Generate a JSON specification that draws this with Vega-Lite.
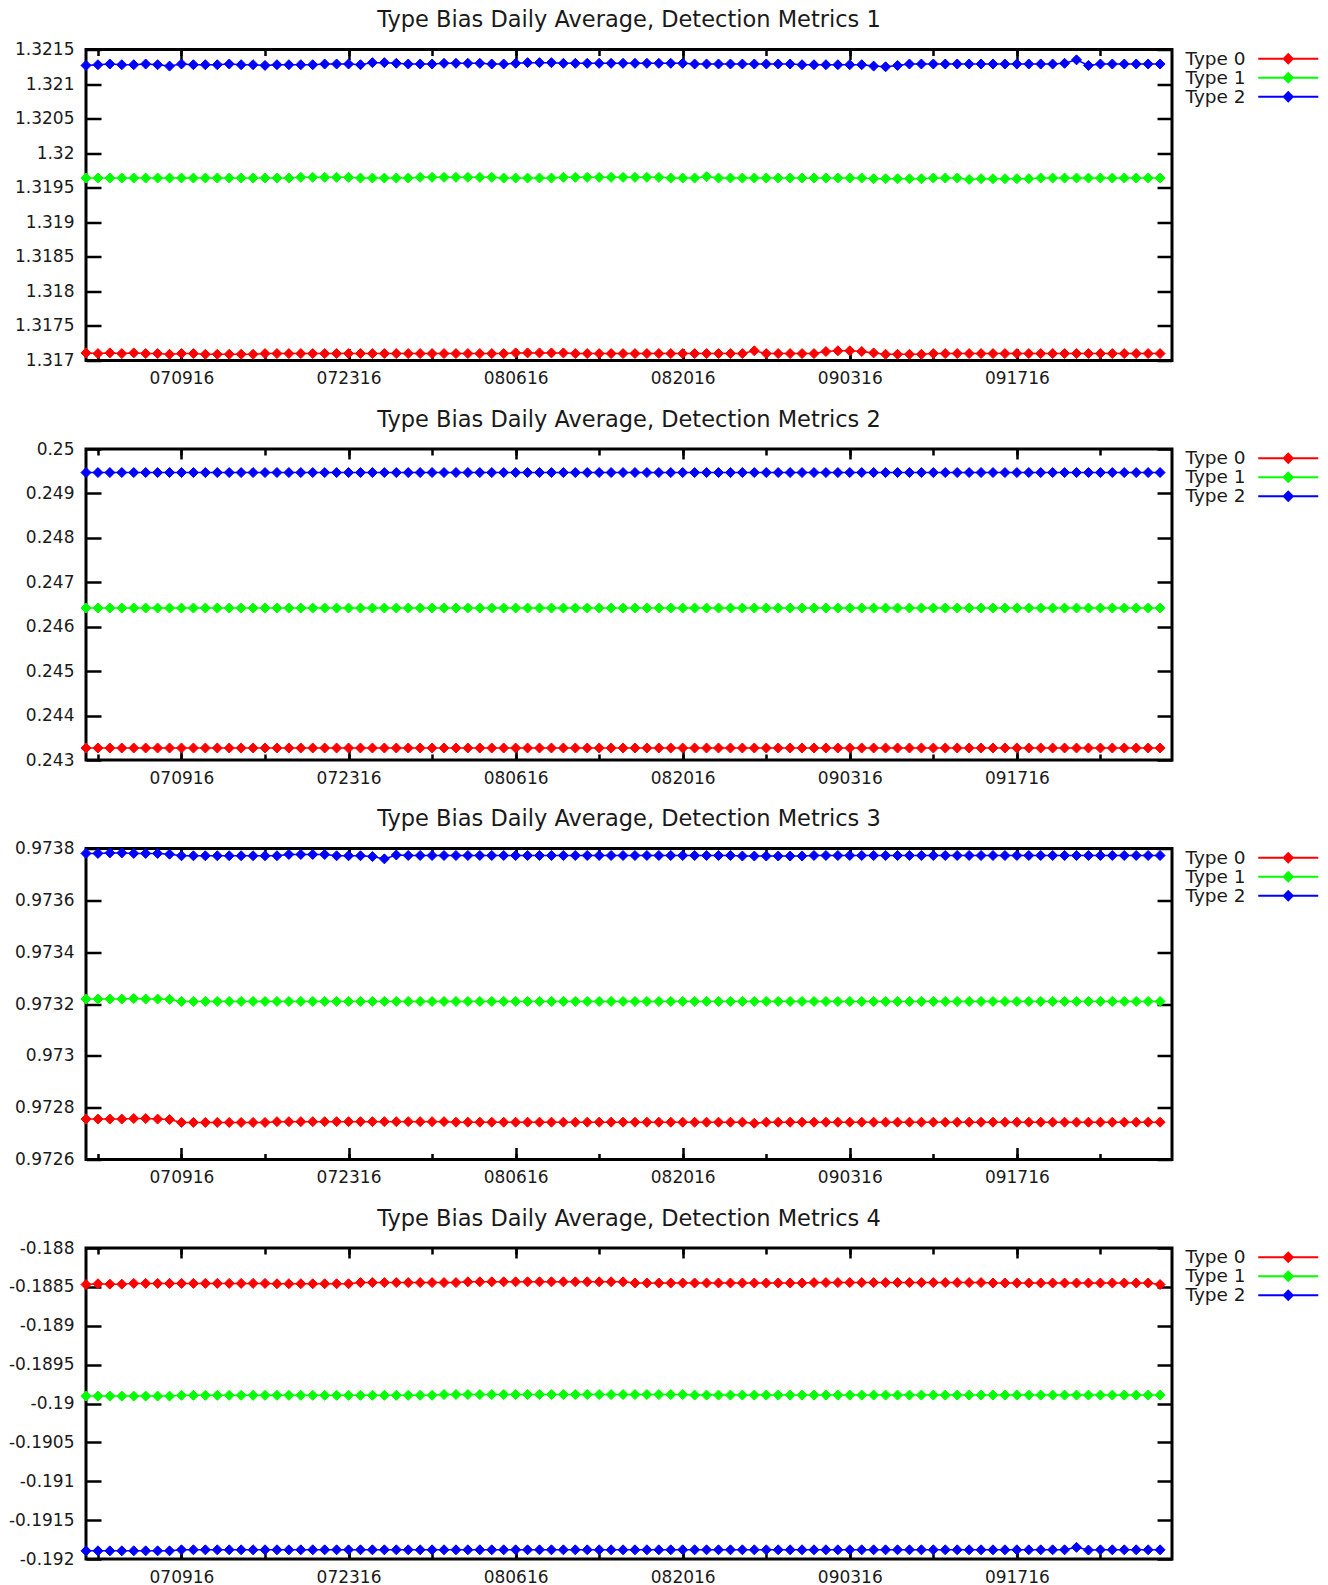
{
"$schema": "https://vega.github.io/schema/vega-lite/v6.json",
"background": "white",
"padding": {"left": 5, "top": 7.5, "right": 0, "bottom": 0},
"spacing": 18.5,
"config": {
  "font": "DejaVu Sans",
  "view": {"stroke": "#000", "strokeWidth": 3},
  "axis": {"grid": false, "domain": false, "tickColor": "#000", "tickWidth": 2.5, "labelFont": "DejaVu Sans", "labelFontSize": 17, "labelColor": "#1a1a1a"},
  "title": {"font": "DejaVu Sans", "fontSize": 22.5, "fontWeight": "normal", "color": "#1a1a1a", "anchor": "middle", "baseline": "alphabetic", "offset": 9},
  "legend": {"orient": "none", "legendX": 1100, "legendY": 0, "labelFont": "DejaVu Sans", "labelFontSize": 18.5, "labelColor": "#1a1a1a", "symbolSize": 256, "symbolStrokeWidth": 2, "symbolOffset": 93, "labelOffset": -112, "rowPadding": 0, "symbolOpacity": 1}
},
"datasets": {
"p1": [
{"d":"2016-07-01","t":"Type 0","v":1.31711},{"d":"2016-07-02","t":"Type 0","v":1.3171},{"d":"2016-07-03","t":"Type 0","v":1.31711},{"d":"2016-07-04","t":"Type 0","v":1.3171},{"d":"2016-07-05","t":"Type 0","v":1.31711},{"d":"2016-07-06","t":"Type 0","v":1.3171},{"d":"2016-07-07","t":"Type 0","v":1.3171},{"d":"2016-07-08","t":"Type 0","v":1.31709},{"d":"2016-07-09","t":"Type 0","v":1.3171},{"d":"2016-07-10","t":"Type 0","v":1.3171},
{"d":"2016-07-11","t":"Type 0","v":1.31709},{"d":"2016-07-12","t":"Type 0","v":1.31709},{"d":"2016-07-13","t":"Type 0","v":1.31709},{"d":"2016-07-14","t":"Type 0","v":1.31709},{"d":"2016-07-15","t":"Type 0","v":1.31709},{"d":"2016-07-16","t":"Type 0","v":1.3171},{"d":"2016-07-17","t":"Type 0","v":1.3171},{"d":"2016-07-18","t":"Type 0","v":1.3171},{"d":"2016-07-19","t":"Type 0","v":1.3171},{"d":"2016-07-20","t":"Type 0","v":1.3171},
{"d":"2016-07-21","t":"Type 0","v":1.3171},{"d":"2016-07-22","t":"Type 0","v":1.3171},{"d":"2016-07-23","t":"Type 0","v":1.3171},{"d":"2016-07-24","t":"Type 0","v":1.3171},{"d":"2016-07-25","t":"Type 0","v":1.3171},{"d":"2016-07-26","t":"Type 0","v":1.3171},{"d":"2016-07-27","t":"Type 0","v":1.3171},{"d":"2016-07-28","t":"Type 0","v":1.3171},{"d":"2016-07-29","t":"Type 0","v":1.3171},{"d":"2016-07-30","t":"Type 0","v":1.3171},
{"d":"2016-07-31","t":"Type 0","v":1.3171},{"d":"2016-08-01","t":"Type 0","v":1.3171},{"d":"2016-08-02","t":"Type 0","v":1.3171},{"d":"2016-08-03","t":"Type 0","v":1.3171},{"d":"2016-08-04","t":"Type 0","v":1.3171},{"d":"2016-08-05","t":"Type 0","v":1.3171},{"d":"2016-08-06","t":"Type 0","v":1.31711},{"d":"2016-08-07","t":"Type 0","v":1.31711},{"d":"2016-08-08","t":"Type 0","v":1.31711},{"d":"2016-08-09","t":"Type 0","v":1.31711},
{"d":"2016-08-10","t":"Type 0","v":1.31711},{"d":"2016-08-11","t":"Type 0","v":1.3171},{"d":"2016-08-12","t":"Type 0","v":1.3171},{"d":"2016-08-13","t":"Type 0","v":1.3171},{"d":"2016-08-14","t":"Type 0","v":1.3171},{"d":"2016-08-15","t":"Type 0","v":1.3171},{"d":"2016-08-16","t":"Type 0","v":1.3171},{"d":"2016-08-17","t":"Type 0","v":1.3171},{"d":"2016-08-18","t":"Type 0","v":1.3171},{"d":"2016-08-19","t":"Type 0","v":1.3171},
{"d":"2016-08-20","t":"Type 0","v":1.3171},{"d":"2016-08-21","t":"Type 0","v":1.3171},{"d":"2016-08-22","t":"Type 0","v":1.3171},{"d":"2016-08-23","t":"Type 0","v":1.3171},{"d":"2016-08-24","t":"Type 0","v":1.3171},{"d":"2016-08-25","t":"Type 0","v":1.3171},{"d":"2016-08-26","t":"Type 0","v":1.31714},{"d":"2016-08-27","t":"Type 0","v":1.3171},{"d":"2016-08-28","t":"Type 0","v":1.3171},{"d":"2016-08-29","t":"Type 0","v":1.3171},
{"d":"2016-08-30","t":"Type 0","v":1.3171},{"d":"2016-08-31","t":"Type 0","v":1.3171},{"d":"2016-09-01","t":"Type 0","v":1.31713},{"d":"2016-09-02","t":"Type 0","v":1.31714},{"d":"2016-09-03","t":"Type 0","v":1.31714},{"d":"2016-09-04","t":"Type 0","v":1.31713},{"d":"2016-09-05","t":"Type 0","v":1.31711},{"d":"2016-09-06","t":"Type 0","v":1.31709},{"d":"2016-09-07","t":"Type 0","v":1.31709},{"d":"2016-09-08","t":"Type 0","v":1.31709},
{"d":"2016-09-09","t":"Type 0","v":1.31709},{"d":"2016-09-10","t":"Type 0","v":1.3171},{"d":"2016-09-11","t":"Type 0","v":1.3171},{"d":"2016-09-12","t":"Type 0","v":1.3171},{"d":"2016-09-13","t":"Type 0","v":1.3171},{"d":"2016-09-14","t":"Type 0","v":1.3171},{"d":"2016-09-15","t":"Type 0","v":1.3171},{"d":"2016-09-16","t":"Type 0","v":1.3171},{"d":"2016-09-17","t":"Type 0","v":1.3171},{"d":"2016-09-18","t":"Type 0","v":1.3171},
{"d":"2016-09-19","t":"Type 0","v":1.3171},{"d":"2016-09-20","t":"Type 0","v":1.3171},{"d":"2016-09-21","t":"Type 0","v":1.3171},{"d":"2016-09-22","t":"Type 0","v":1.3171},{"d":"2016-09-23","t":"Type 0","v":1.3171},{"d":"2016-09-24","t":"Type 0","v":1.3171},{"d":"2016-09-25","t":"Type 0","v":1.3171},{"d":"2016-09-26","t":"Type 0","v":1.3171},{"d":"2016-09-27","t":"Type 0","v":1.3171},{"d":"2016-09-28","t":"Type 0","v":1.3171},
{"d":"2016-09-29","t":"Type 0","v":1.3171},
{"d":"2016-07-01","t":"Type 1","v":1.31964},{"d":"2016-07-02","t":"Type 1","v":1.31964},{"d":"2016-07-03","t":"Type 1","v":1.31964},{"d":"2016-07-04","t":"Type 1","v":1.31964},{"d":"2016-07-05","t":"Type 1","v":1.31964},{"d":"2016-07-06","t":"Type 1","v":1.31964},{"d":"2016-07-07","t":"Type 1","v":1.31964},{"d":"2016-07-08","t":"Type 1","v":1.31964},{"d":"2016-07-09","t":"Type 1","v":1.31964},{"d":"2016-07-10","t":"Type 1","v":1.31964},
{"d":"2016-07-11","t":"Type 1","v":1.31964},{"d":"2016-07-12","t":"Type 1","v":1.31964},{"d":"2016-07-13","t":"Type 1","v":1.31964},{"d":"2016-07-14","t":"Type 1","v":1.31964},{"d":"2016-07-15","t":"Type 1","v":1.31964},{"d":"2016-07-16","t":"Type 1","v":1.31964},{"d":"2016-07-17","t":"Type 1","v":1.31964},{"d":"2016-07-18","t":"Type 1","v":1.31964},{"d":"2016-07-19","t":"Type 1","v":1.31965},{"d":"2016-07-20","t":"Type 1","v":1.31965},
{"d":"2016-07-21","t":"Type 1","v":1.31965},{"d":"2016-07-22","t":"Type 1","v":1.31965},{"d":"2016-07-23","t":"Type 1","v":1.31965},{"d":"2016-07-24","t":"Type 1","v":1.31964},{"d":"2016-07-25","t":"Type 1","v":1.31964},{"d":"2016-07-26","t":"Type 1","v":1.31964},{"d":"2016-07-27","t":"Type 1","v":1.31964},{"d":"2016-07-28","t":"Type 1","v":1.31964},{"d":"2016-07-29","t":"Type 1","v":1.31965},{"d":"2016-07-30","t":"Type 1","v":1.31965},
{"d":"2016-07-31","t":"Type 1","v":1.31965},{"d":"2016-08-01","t":"Type 1","v":1.31965},{"d":"2016-08-02","t":"Type 1","v":1.31965},{"d":"2016-08-03","t":"Type 1","v":1.31965},{"d":"2016-08-04","t":"Type 1","v":1.31965},{"d":"2016-08-05","t":"Type 1","v":1.31964},{"d":"2016-08-06","t":"Type 1","v":1.31964},{"d":"2016-08-07","t":"Type 1","v":1.31964},{"d":"2016-08-08","t":"Type 1","v":1.31964},{"d":"2016-08-09","t":"Type 1","v":1.31964},
{"d":"2016-08-10","t":"Type 1","v":1.31965},{"d":"2016-08-11","t":"Type 1","v":1.31965},{"d":"2016-08-12","t":"Type 1","v":1.31965},{"d":"2016-08-13","t":"Type 1","v":1.31965},{"d":"2016-08-14","t":"Type 1","v":1.31965},{"d":"2016-08-15","t":"Type 1","v":1.31965},{"d":"2016-08-16","t":"Type 1","v":1.31965},{"d":"2016-08-17","t":"Type 1","v":1.31965},{"d":"2016-08-18","t":"Type 1","v":1.31965},{"d":"2016-08-19","t":"Type 1","v":1.31964},
{"d":"2016-08-20","t":"Type 1","v":1.31964},{"d":"2016-08-21","t":"Type 1","v":1.31964},{"d":"2016-08-22","t":"Type 1","v":1.31966},{"d":"2016-08-23","t":"Type 1","v":1.31964},{"d":"2016-08-24","t":"Type 1","v":1.31964},{"d":"2016-08-25","t":"Type 1","v":1.31964},{"d":"2016-08-26","t":"Type 1","v":1.31964},{"d":"2016-08-27","t":"Type 1","v":1.31964},{"d":"2016-08-28","t":"Type 1","v":1.31964},{"d":"2016-08-29","t":"Type 1","v":1.31964},
{"d":"2016-08-30","t":"Type 1","v":1.31964},{"d":"2016-08-31","t":"Type 1","v":1.31964},{"d":"2016-09-01","t":"Type 1","v":1.31964},{"d":"2016-09-02","t":"Type 1","v":1.31964},{"d":"2016-09-03","t":"Type 1","v":1.31964},{"d":"2016-09-04","t":"Type 1","v":1.31964},{"d":"2016-09-05","t":"Type 1","v":1.31963},{"d":"2016-09-06","t":"Type 1","v":1.31963},{"d":"2016-09-07","t":"Type 1","v":1.31963},{"d":"2016-09-08","t":"Type 1","v":1.31963},
{"d":"2016-09-09","t":"Type 1","v":1.31963},{"d":"2016-09-10","t":"Type 1","v":1.31964},{"d":"2016-09-11","t":"Type 1","v":1.31964},{"d":"2016-09-12","t":"Type 1","v":1.31964},{"d":"2016-09-13","t":"Type 1","v":1.31962},{"d":"2016-09-14","t":"Type 1","v":1.31963},{"d":"2016-09-15","t":"Type 1","v":1.31963},{"d":"2016-09-16","t":"Type 1","v":1.31963},{"d":"2016-09-17","t":"Type 1","v":1.31963},{"d":"2016-09-18","t":"Type 1","v":1.31963},
{"d":"2016-09-19","t":"Type 1","v":1.31964},{"d":"2016-09-20","t":"Type 1","v":1.31964},{"d":"2016-09-21","t":"Type 1","v":1.31964},{"d":"2016-09-22","t":"Type 1","v":1.31964},{"d":"2016-09-23","t":"Type 1","v":1.31964},{"d":"2016-09-24","t":"Type 1","v":1.31964},{"d":"2016-09-25","t":"Type 1","v":1.31964},{"d":"2016-09-26","t":"Type 1","v":1.31964},{"d":"2016-09-27","t":"Type 1","v":1.31964},{"d":"2016-09-28","t":"Type 1","v":1.31964},
{"d":"2016-09-29","t":"Type 1","v":1.31964},
{"d":"2016-07-01","t":"Type 2","v":1.32127},{"d":"2016-07-02","t":"Type 2","v":1.32128},{"d":"2016-07-03","t":"Type 2","v":1.32129},{"d":"2016-07-04","t":"Type 2","v":1.32128},{"d":"2016-07-05","t":"Type 2","v":1.32128},{"d":"2016-07-06","t":"Type 2","v":1.32129},{"d":"2016-07-07","t":"Type 2","v":1.32128},{"d":"2016-07-08","t":"Type 2","v":1.32126},{"d":"2016-07-09","t":"Type 2","v":1.32129},{"d":"2016-07-10","t":"Type 2","v":1.32128},
{"d":"2016-07-11","t":"Type 2","v":1.32128},{"d":"2016-07-12","t":"Type 2","v":1.32128},{"d":"2016-07-13","t":"Type 2","v":1.32129},{"d":"2016-07-14","t":"Type 2","v":1.32128},{"d":"2016-07-15","t":"Type 2","v":1.32128},{"d":"2016-07-16","t":"Type 2","v":1.32127},{"d":"2016-07-17","t":"Type 2","v":1.32128},{"d":"2016-07-18","t":"Type 2","v":1.32128},{"d":"2016-07-19","t":"Type 2","v":1.32128},{"d":"2016-07-20","t":"Type 2","v":1.32128},
{"d":"2016-07-21","t":"Type 2","v":1.32129},{"d":"2016-07-22","t":"Type 2","v":1.32129},{"d":"2016-07-23","t":"Type 2","v":1.32129},{"d":"2016-07-24","t":"Type 2","v":1.32128},{"d":"2016-07-25","t":"Type 2","v":1.32131},{"d":"2016-07-26","t":"Type 2","v":1.32131},{"d":"2016-07-27","t":"Type 2","v":1.3213},{"d":"2016-07-28","t":"Type 2","v":1.32129},{"d":"2016-07-29","t":"Type 2","v":1.32129},{"d":"2016-07-30","t":"Type 2","v":1.32129},
{"d":"2016-07-31","t":"Type 2","v":1.3213},{"d":"2016-08-01","t":"Type 2","v":1.3213},{"d":"2016-08-02","t":"Type 2","v":1.3213},{"d":"2016-08-03","t":"Type 2","v":1.3213},{"d":"2016-08-04","t":"Type 2","v":1.32129},{"d":"2016-08-05","t":"Type 2","v":1.32129},{"d":"2016-08-06","t":"Type 2","v":1.3213},{"d":"2016-08-07","t":"Type 2","v":1.32131},{"d":"2016-08-08","t":"Type 2","v":1.32131},{"d":"2016-08-09","t":"Type 2","v":1.32131},
{"d":"2016-08-10","t":"Type 2","v":1.3213},{"d":"2016-08-11","t":"Type 2","v":1.3213},{"d":"2016-08-12","t":"Type 2","v":1.3213},{"d":"2016-08-13","t":"Type 2","v":1.3213},{"d":"2016-08-14","t":"Type 2","v":1.3213},{"d":"2016-08-15","t":"Type 2","v":1.3213},{"d":"2016-08-16","t":"Type 2","v":1.3213},{"d":"2016-08-17","t":"Type 2","v":1.3213},{"d":"2016-08-18","t":"Type 2","v":1.3213},{"d":"2016-08-19","t":"Type 2","v":1.3213},
{"d":"2016-08-20","t":"Type 2","v":1.3213},{"d":"2016-08-21","t":"Type 2","v":1.32129},{"d":"2016-08-22","t":"Type 2","v":1.32129},{"d":"2016-08-23","t":"Type 2","v":1.32129},{"d":"2016-08-24","t":"Type 2","v":1.32129},{"d":"2016-08-25","t":"Type 2","v":1.32129},{"d":"2016-08-26","t":"Type 2","v":1.32129},{"d":"2016-08-27","t":"Type 2","v":1.32129},{"d":"2016-08-28","t":"Type 2","v":1.32129},{"d":"2016-08-29","t":"Type 2","v":1.32129},
{"d":"2016-08-30","t":"Type 2","v":1.32128},{"d":"2016-08-31","t":"Type 2","v":1.32128},{"d":"2016-09-01","t":"Type 2","v":1.32128},{"d":"2016-09-02","t":"Type 2","v":1.32128},{"d":"2016-09-03","t":"Type 2","v":1.32128},{"d":"2016-09-04","t":"Type 2","v":1.32128},{"d":"2016-09-05","t":"Type 2","v":1.32126},{"d":"2016-09-06","t":"Type 2","v":1.32125},{"d":"2016-09-07","t":"Type 2","v":1.32127},{"d":"2016-09-08","t":"Type 2","v":1.32129},
{"d":"2016-09-09","t":"Type 2","v":1.32129},{"d":"2016-09-10","t":"Type 2","v":1.32129},{"d":"2016-09-11","t":"Type 2","v":1.32129},{"d":"2016-09-12","t":"Type 2","v":1.32129},{"d":"2016-09-13","t":"Type 2","v":1.32129},{"d":"2016-09-14","t":"Type 2","v":1.32129},{"d":"2016-09-15","t":"Type 2","v":1.32129},{"d":"2016-09-16","t":"Type 2","v":1.32129},{"d":"2016-09-17","t":"Type 2","v":1.32129},{"d":"2016-09-18","t":"Type 2","v":1.32129},
{"d":"2016-09-19","t":"Type 2","v":1.32129},{"d":"2016-09-20","t":"Type 2","v":1.32129},{"d":"2016-09-21","t":"Type 2","v":1.3213},{"d":"2016-09-22","t":"Type 2","v":1.32135},{"d":"2016-09-23","t":"Type 2","v":1.32127},{"d":"2016-09-24","t":"Type 2","v":1.32129},{"d":"2016-09-25","t":"Type 2","v":1.32129},{"d":"2016-09-26","t":"Type 2","v":1.32129},{"d":"2016-09-27","t":"Type 2","v":1.32129},{"d":"2016-09-28","t":"Type 2","v":1.32129},
{"d":"2016-09-29","t":"Type 2","v":1.32129}
],
"p2": [
{"d":"2016-07-01","t":"Type 0","v":0.24327},{"d":"2016-07-02","t":"Type 0","v":0.24327},{"d":"2016-07-03","t":"Type 0","v":0.24327},{"d":"2016-07-04","t":"Type 0","v":0.24327},{"d":"2016-07-05","t":"Type 0","v":0.24327},{"d":"2016-07-06","t":"Type 0","v":0.24327},{"d":"2016-07-07","t":"Type 0","v":0.24327},{"d":"2016-07-08","t":"Type 0","v":0.24327},{"d":"2016-07-09","t":"Type 0","v":0.24327},{"d":"2016-07-10","t":"Type 0","v":0.24327},
{"d":"2016-07-11","t":"Type 0","v":0.24327},{"d":"2016-07-12","t":"Type 0","v":0.24327},{"d":"2016-07-13","t":"Type 0","v":0.24327},{"d":"2016-07-14","t":"Type 0","v":0.24327},{"d":"2016-07-15","t":"Type 0","v":0.24327},{"d":"2016-07-16","t":"Type 0","v":0.24327},{"d":"2016-07-17","t":"Type 0","v":0.24327},{"d":"2016-07-18","t":"Type 0","v":0.24327},{"d":"2016-07-19","t":"Type 0","v":0.24327},{"d":"2016-07-20","t":"Type 0","v":0.24327},
{"d":"2016-07-21","t":"Type 0","v":0.24327},{"d":"2016-07-22","t":"Type 0","v":0.24327},{"d":"2016-07-23","t":"Type 0","v":0.24327},{"d":"2016-07-24","t":"Type 0","v":0.24327},{"d":"2016-07-25","t":"Type 0","v":0.24327},{"d":"2016-07-26","t":"Type 0","v":0.24327},{"d":"2016-07-27","t":"Type 0","v":0.24327},{"d":"2016-07-28","t":"Type 0","v":0.24327},{"d":"2016-07-29","t":"Type 0","v":0.24327},{"d":"2016-07-30","t":"Type 0","v":0.24327},
{"d":"2016-07-31","t":"Type 0","v":0.24327},{"d":"2016-08-01","t":"Type 0","v":0.24327},{"d":"2016-08-02","t":"Type 0","v":0.24327},{"d":"2016-08-03","t":"Type 0","v":0.24327},{"d":"2016-08-04","t":"Type 0","v":0.24327},{"d":"2016-08-05","t":"Type 0","v":0.24327},{"d":"2016-08-06","t":"Type 0","v":0.24327},{"d":"2016-08-07","t":"Type 0","v":0.24327},{"d":"2016-08-08","t":"Type 0","v":0.24327},{"d":"2016-08-09","t":"Type 0","v":0.24327},
{"d":"2016-08-10","t":"Type 0","v":0.24327},{"d":"2016-08-11","t":"Type 0","v":0.24327},{"d":"2016-08-12","t":"Type 0","v":0.24327},{"d":"2016-08-13","t":"Type 0","v":0.24327},{"d":"2016-08-14","t":"Type 0","v":0.24327},{"d":"2016-08-15","t":"Type 0","v":0.24327},{"d":"2016-08-16","t":"Type 0","v":0.24327},{"d":"2016-08-17","t":"Type 0","v":0.24327},{"d":"2016-08-18","t":"Type 0","v":0.24327},{"d":"2016-08-19","t":"Type 0","v":0.24327},
{"d":"2016-08-20","t":"Type 0","v":0.24327},{"d":"2016-08-21","t":"Type 0","v":0.24327},{"d":"2016-08-22","t":"Type 0","v":0.24327},{"d":"2016-08-23","t":"Type 0","v":0.24327},{"d":"2016-08-24","t":"Type 0","v":0.24327},{"d":"2016-08-25","t":"Type 0","v":0.24327},{"d":"2016-08-26","t":"Type 0","v":0.24327},{"d":"2016-08-27","t":"Type 0","v":0.24327},{"d":"2016-08-28","t":"Type 0","v":0.24327},{"d":"2016-08-29","t":"Type 0","v":0.24327},
{"d":"2016-08-30","t":"Type 0","v":0.24327},{"d":"2016-08-31","t":"Type 0","v":0.24327},{"d":"2016-09-01","t":"Type 0","v":0.24327},{"d":"2016-09-02","t":"Type 0","v":0.24327},{"d":"2016-09-03","t":"Type 0","v":0.24327},{"d":"2016-09-04","t":"Type 0","v":0.24327},{"d":"2016-09-05","t":"Type 0","v":0.24327},{"d":"2016-09-06","t":"Type 0","v":0.24327},{"d":"2016-09-07","t":"Type 0","v":0.24327},{"d":"2016-09-08","t":"Type 0","v":0.24327},
{"d":"2016-09-09","t":"Type 0","v":0.24327},{"d":"2016-09-10","t":"Type 0","v":0.24327},{"d":"2016-09-11","t":"Type 0","v":0.24327},{"d":"2016-09-12","t":"Type 0","v":0.24327},{"d":"2016-09-13","t":"Type 0","v":0.24327},{"d":"2016-09-14","t":"Type 0","v":0.24327},{"d":"2016-09-15","t":"Type 0","v":0.24327},{"d":"2016-09-16","t":"Type 0","v":0.24327},{"d":"2016-09-17","t":"Type 0","v":0.24327},{"d":"2016-09-18","t":"Type 0","v":0.24327},
{"d":"2016-09-19","t":"Type 0","v":0.24327},{"d":"2016-09-20","t":"Type 0","v":0.24327},{"d":"2016-09-21","t":"Type 0","v":0.24327},{"d":"2016-09-22","t":"Type 0","v":0.24327},{"d":"2016-09-23","t":"Type 0","v":0.24327},{"d":"2016-09-24","t":"Type 0","v":0.24327},{"d":"2016-09-25","t":"Type 0","v":0.24327},{"d":"2016-09-26","t":"Type 0","v":0.24327},{"d":"2016-09-27","t":"Type 0","v":0.24327},{"d":"2016-09-28","t":"Type 0","v":0.24327},
{"d":"2016-09-29","t":"Type 0","v":0.24327},
{"d":"2016-07-01","t":"Type 1","v":0.24642},{"d":"2016-07-02","t":"Type 1","v":0.24642},{"d":"2016-07-03","t":"Type 1","v":0.24642},{"d":"2016-07-04","t":"Type 1","v":0.24642},{"d":"2016-07-05","t":"Type 1","v":0.24642},{"d":"2016-07-06","t":"Type 1","v":0.24642},{"d":"2016-07-07","t":"Type 1","v":0.24642},{"d":"2016-07-08","t":"Type 1","v":0.24642},{"d":"2016-07-09","t":"Type 1","v":0.24642},{"d":"2016-07-10","t":"Type 1","v":0.24642},
{"d":"2016-07-11","t":"Type 1","v":0.24642},{"d":"2016-07-12","t":"Type 1","v":0.24642},{"d":"2016-07-13","t":"Type 1","v":0.24642},{"d":"2016-07-14","t":"Type 1","v":0.24642},{"d":"2016-07-15","t":"Type 1","v":0.24642},{"d":"2016-07-16","t":"Type 1","v":0.24642},{"d":"2016-07-17","t":"Type 1","v":0.24642},{"d":"2016-07-18","t":"Type 1","v":0.24642},{"d":"2016-07-19","t":"Type 1","v":0.24642},{"d":"2016-07-20","t":"Type 1","v":0.24642},
{"d":"2016-07-21","t":"Type 1","v":0.24642},{"d":"2016-07-22","t":"Type 1","v":0.24642},{"d":"2016-07-23","t":"Type 1","v":0.24642},{"d":"2016-07-24","t":"Type 1","v":0.24642},{"d":"2016-07-25","t":"Type 1","v":0.24642},{"d":"2016-07-26","t":"Type 1","v":0.24642},{"d":"2016-07-27","t":"Type 1","v":0.24642},{"d":"2016-07-28","t":"Type 1","v":0.24642},{"d":"2016-07-29","t":"Type 1","v":0.24642},{"d":"2016-07-30","t":"Type 1","v":0.24642},
{"d":"2016-07-31","t":"Type 1","v":0.24642},{"d":"2016-08-01","t":"Type 1","v":0.24642},{"d":"2016-08-02","t":"Type 1","v":0.24642},{"d":"2016-08-03","t":"Type 1","v":0.24642},{"d":"2016-08-04","t":"Type 1","v":0.24642},{"d":"2016-08-05","t":"Type 1","v":0.24642},{"d":"2016-08-06","t":"Type 1","v":0.24642},{"d":"2016-08-07","t":"Type 1","v":0.24642},{"d":"2016-08-08","t":"Type 1","v":0.24642},{"d":"2016-08-09","t":"Type 1","v":0.24642},
{"d":"2016-08-10","t":"Type 1","v":0.24642},{"d":"2016-08-11","t":"Type 1","v":0.24642},{"d":"2016-08-12","t":"Type 1","v":0.24642},{"d":"2016-08-13","t":"Type 1","v":0.24642},{"d":"2016-08-14","t":"Type 1","v":0.24642},{"d":"2016-08-15","t":"Type 1","v":0.24642},{"d":"2016-08-16","t":"Type 1","v":0.24642},{"d":"2016-08-17","t":"Type 1","v":0.24642},{"d":"2016-08-18","t":"Type 1","v":0.24642},{"d":"2016-08-19","t":"Type 1","v":0.24642},
{"d":"2016-08-20","t":"Type 1","v":0.24642},{"d":"2016-08-21","t":"Type 1","v":0.24642},{"d":"2016-08-22","t":"Type 1","v":0.24642},{"d":"2016-08-23","t":"Type 1","v":0.24642},{"d":"2016-08-24","t":"Type 1","v":0.24642},{"d":"2016-08-25","t":"Type 1","v":0.24642},{"d":"2016-08-26","t":"Type 1","v":0.24642},{"d":"2016-08-27","t":"Type 1","v":0.24642},{"d":"2016-08-28","t":"Type 1","v":0.24642},{"d":"2016-08-29","t":"Type 1","v":0.24642},
{"d":"2016-08-30","t":"Type 1","v":0.24642},{"d":"2016-08-31","t":"Type 1","v":0.24642},{"d":"2016-09-01","t":"Type 1","v":0.24642},{"d":"2016-09-02","t":"Type 1","v":0.24642},{"d":"2016-09-03","t":"Type 1","v":0.24642},{"d":"2016-09-04","t":"Type 1","v":0.24642},{"d":"2016-09-05","t":"Type 1","v":0.24642},{"d":"2016-09-06","t":"Type 1","v":0.24642},{"d":"2016-09-07","t":"Type 1","v":0.24642},{"d":"2016-09-08","t":"Type 1","v":0.24642},
{"d":"2016-09-09","t":"Type 1","v":0.24642},{"d":"2016-09-10","t":"Type 1","v":0.24642},{"d":"2016-09-11","t":"Type 1","v":0.24642},{"d":"2016-09-12","t":"Type 1","v":0.24642},{"d":"2016-09-13","t":"Type 1","v":0.24642},{"d":"2016-09-14","t":"Type 1","v":0.24642},{"d":"2016-09-15","t":"Type 1","v":0.24642},{"d":"2016-09-16","t":"Type 1","v":0.24642},{"d":"2016-09-17","t":"Type 1","v":0.24642},{"d":"2016-09-18","t":"Type 1","v":0.24642},
{"d":"2016-09-19","t":"Type 1","v":0.24642},{"d":"2016-09-20","t":"Type 1","v":0.24642},{"d":"2016-09-21","t":"Type 1","v":0.24642},{"d":"2016-09-22","t":"Type 1","v":0.24642},{"d":"2016-09-23","t":"Type 1","v":0.24642},{"d":"2016-09-24","t":"Type 1","v":0.24642},{"d":"2016-09-25","t":"Type 1","v":0.24642},{"d":"2016-09-26","t":"Type 1","v":0.24642},{"d":"2016-09-27","t":"Type 1","v":0.24642},{"d":"2016-09-28","t":"Type 1","v":0.24642},
{"d":"2016-09-29","t":"Type 1","v":0.24642},
{"d":"2016-07-01","t":"Type 2","v":0.24947},{"d":"2016-07-02","t":"Type 2","v":0.24947},{"d":"2016-07-03","t":"Type 2","v":0.24947},{"d":"2016-07-04","t":"Type 2","v":0.24947},{"d":"2016-07-05","t":"Type 2","v":0.24947},{"d":"2016-07-06","t":"Type 2","v":0.24947},{"d":"2016-07-07","t":"Type 2","v":0.24947},{"d":"2016-07-08","t":"Type 2","v":0.24947},{"d":"2016-07-09","t":"Type 2","v":0.24947},{"d":"2016-07-10","t":"Type 2","v":0.24947},
{"d":"2016-07-11","t":"Type 2","v":0.24947},{"d":"2016-07-12","t":"Type 2","v":0.24947},{"d":"2016-07-13","t":"Type 2","v":0.24947},{"d":"2016-07-14","t":"Type 2","v":0.24947},{"d":"2016-07-15","t":"Type 2","v":0.24947},{"d":"2016-07-16","t":"Type 2","v":0.24947},{"d":"2016-07-17","t":"Type 2","v":0.24947},{"d":"2016-07-18","t":"Type 2","v":0.24947},{"d":"2016-07-19","t":"Type 2","v":0.24947},{"d":"2016-07-20","t":"Type 2","v":0.24947},
{"d":"2016-07-21","t":"Type 2","v":0.24947},{"d":"2016-07-22","t":"Type 2","v":0.24947},{"d":"2016-07-23","t":"Type 2","v":0.24947},{"d":"2016-07-24","t":"Type 2","v":0.24947},{"d":"2016-07-25","t":"Type 2","v":0.24947},{"d":"2016-07-26","t":"Type 2","v":0.24947},{"d":"2016-07-27","t":"Type 2","v":0.24947},{"d":"2016-07-28","t":"Type 2","v":0.24947},{"d":"2016-07-29","t":"Type 2","v":0.24947},{"d":"2016-07-30","t":"Type 2","v":0.24947},
{"d":"2016-07-31","t":"Type 2","v":0.24947},{"d":"2016-08-01","t":"Type 2","v":0.24947},{"d":"2016-08-02","t":"Type 2","v":0.24947},{"d":"2016-08-03","t":"Type 2","v":0.24947},{"d":"2016-08-04","t":"Type 2","v":0.24947},{"d":"2016-08-05","t":"Type 2","v":0.24947},{"d":"2016-08-06","t":"Type 2","v":0.24947},{"d":"2016-08-07","t":"Type 2","v":0.24947},{"d":"2016-08-08","t":"Type 2","v":0.24947},{"d":"2016-08-09","t":"Type 2","v":0.24947},
{"d":"2016-08-10","t":"Type 2","v":0.24947},{"d":"2016-08-11","t":"Type 2","v":0.24947},{"d":"2016-08-12","t":"Type 2","v":0.24947},{"d":"2016-08-13","t":"Type 2","v":0.24947},{"d":"2016-08-14","t":"Type 2","v":0.24947},{"d":"2016-08-15","t":"Type 2","v":0.24947},{"d":"2016-08-16","t":"Type 2","v":0.24947},{"d":"2016-08-17","t":"Type 2","v":0.24947},{"d":"2016-08-18","t":"Type 2","v":0.24947},{"d":"2016-08-19","t":"Type 2","v":0.24947},
{"d":"2016-08-20","t":"Type 2","v":0.24947},{"d":"2016-08-21","t":"Type 2","v":0.24947},{"d":"2016-08-22","t":"Type 2","v":0.24947},{"d":"2016-08-23","t":"Type 2","v":0.24947},{"d":"2016-08-24","t":"Type 2","v":0.24947},{"d":"2016-08-25","t":"Type 2","v":0.24947},{"d":"2016-08-26","t":"Type 2","v":0.24947},{"d":"2016-08-27","t":"Type 2","v":0.24947},{"d":"2016-08-28","t":"Type 2","v":0.24947},{"d":"2016-08-29","t":"Type 2","v":0.24947},
{"d":"2016-08-30","t":"Type 2","v":0.24947},{"d":"2016-08-31","t":"Type 2","v":0.24947},{"d":"2016-09-01","t":"Type 2","v":0.24947},{"d":"2016-09-02","t":"Type 2","v":0.24947},{"d":"2016-09-03","t":"Type 2","v":0.24947},{"d":"2016-09-04","t":"Type 2","v":0.24947},{"d":"2016-09-05","t":"Type 2","v":0.24947},{"d":"2016-09-06","t":"Type 2","v":0.24947},{"d":"2016-09-07","t":"Type 2","v":0.24947},{"d":"2016-09-08","t":"Type 2","v":0.24947},
{"d":"2016-09-09","t":"Type 2","v":0.24947},{"d":"2016-09-10","t":"Type 2","v":0.24947},{"d":"2016-09-11","t":"Type 2","v":0.24947},{"d":"2016-09-12","t":"Type 2","v":0.24947},{"d":"2016-09-13","t":"Type 2","v":0.24947},{"d":"2016-09-14","t":"Type 2","v":0.24947},{"d":"2016-09-15","t":"Type 2","v":0.24947},{"d":"2016-09-16","t":"Type 2","v":0.24947},{"d":"2016-09-17","t":"Type 2","v":0.24947},{"d":"2016-09-18","t":"Type 2","v":0.24947},
{"d":"2016-09-19","t":"Type 2","v":0.24947},{"d":"2016-09-20","t":"Type 2","v":0.24947},{"d":"2016-09-21","t":"Type 2","v":0.24947},{"d":"2016-09-22","t":"Type 2","v":0.24947},{"d":"2016-09-23","t":"Type 2","v":0.24947},{"d":"2016-09-24","t":"Type 2","v":0.24947},{"d":"2016-09-25","t":"Type 2","v":0.24947},{"d":"2016-09-26","t":"Type 2","v":0.24947},{"d":"2016-09-27","t":"Type 2","v":0.24947},{"d":"2016-09-28","t":"Type 2","v":0.24947},
{"d":"2016-09-29","t":"Type 2","v":0.24947}
],
"p3": [
{"d":"2016-07-01","t":"Type 0","v":0.972756},{"d":"2016-07-02","t":"Type 0","v":0.972756},{"d":"2016-07-03","t":"Type 0","v":0.972756},{"d":"2016-07-04","t":"Type 0","v":0.972756},{"d":"2016-07-05","t":"Type 0","v":0.972758},{"d":"2016-07-06","t":"Type 0","v":0.972758},{"d":"2016-07-07","t":"Type 0","v":0.972756},{"d":"2016-07-08","t":"Type 0","v":0.972754},{"d":"2016-07-09","t":"Type 0","v":0.972743},{"d":"2016-07-10","t":"Type 0","v":0.972743},
{"d":"2016-07-11","t":"Type 0","v":0.972743},{"d":"2016-07-12","t":"Type 0","v":0.972743},{"d":"2016-07-13","t":"Type 0","v":0.972743},{"d":"2016-07-14","t":"Type 0","v":0.972743},{"d":"2016-07-15","t":"Type 0","v":0.972743},{"d":"2016-07-16","t":"Type 0","v":0.972743},{"d":"2016-07-17","t":"Type 0","v":0.972746},{"d":"2016-07-18","t":"Type 0","v":0.972746},{"d":"2016-07-19","t":"Type 0","v":0.972746},{"d":"2016-07-20","t":"Type 0","v":0.972746},
{"d":"2016-07-21","t":"Type 0","v":0.972746},{"d":"2016-07-22","t":"Type 0","v":0.972746},{"d":"2016-07-23","t":"Type 0","v":0.972746},{"d":"2016-07-24","t":"Type 0","v":0.972746},{"d":"2016-07-25","t":"Type 0","v":0.972746},{"d":"2016-07-26","t":"Type 0","v":0.972746},{"d":"2016-07-27","t":"Type 0","v":0.972746},{"d":"2016-07-28","t":"Type 0","v":0.972746},{"d":"2016-07-29","t":"Type 0","v":0.972746},{"d":"2016-07-30","t":"Type 0","v":0.972746},
{"d":"2016-07-31","t":"Type 0","v":0.972746},{"d":"2016-08-01","t":"Type 0","v":0.972744},{"d":"2016-08-02","t":"Type 0","v":0.972744},{"d":"2016-08-03","t":"Type 0","v":0.972744},{"d":"2016-08-04","t":"Type 0","v":0.972744},{"d":"2016-08-05","t":"Type 0","v":0.972744},{"d":"2016-08-06","t":"Type 0","v":0.972744},{"d":"2016-08-07","t":"Type 0","v":0.972744},{"d":"2016-08-08","t":"Type 0","v":0.972744},{"d":"2016-08-09","t":"Type 0","v":0.972744},
{"d":"2016-08-10","t":"Type 0","v":0.972744},{"d":"2016-08-11","t":"Type 0","v":0.972744},{"d":"2016-08-12","t":"Type 0","v":0.972744},{"d":"2016-08-13","t":"Type 0","v":0.972744},{"d":"2016-08-14","t":"Type 0","v":0.972744},{"d":"2016-08-15","t":"Type 0","v":0.972744},{"d":"2016-08-16","t":"Type 0","v":0.972744},{"d":"2016-08-17","t":"Type 0","v":0.972744},{"d":"2016-08-18","t":"Type 0","v":0.972744},{"d":"2016-08-19","t":"Type 0","v":0.972744},
{"d":"2016-08-20","t":"Type 0","v":0.972744},{"d":"2016-08-21","t":"Type 0","v":0.972744},{"d":"2016-08-22","t":"Type 0","v":0.972744},{"d":"2016-08-23","t":"Type 0","v":0.972744},{"d":"2016-08-24","t":"Type 0","v":0.972744},{"d":"2016-08-25","t":"Type 0","v":0.972744},{"d":"2016-08-26","t":"Type 0","v":0.97274},{"d":"2016-08-27","t":"Type 0","v":0.972744},{"d":"2016-08-28","t":"Type 0","v":0.972744},{"d":"2016-08-29","t":"Type 0","v":0.972744},
{"d":"2016-08-30","t":"Type 0","v":0.972744},{"d":"2016-08-31","t":"Type 0","v":0.972744},{"d":"2016-09-01","t":"Type 0","v":0.972744},{"d":"2016-09-02","t":"Type 0","v":0.972744},{"d":"2016-09-03","t":"Type 0","v":0.972744},{"d":"2016-09-04","t":"Type 0","v":0.972744},{"d":"2016-09-05","t":"Type 0","v":0.972744},{"d":"2016-09-06","t":"Type 0","v":0.972744},{"d":"2016-09-07","t":"Type 0","v":0.972744},{"d":"2016-09-08","t":"Type 0","v":0.972744},
{"d":"2016-09-09","t":"Type 0","v":0.972744},{"d":"2016-09-10","t":"Type 0","v":0.972744},{"d":"2016-09-11","t":"Type 0","v":0.972744},{"d":"2016-09-12","t":"Type 0","v":0.972744},{"d":"2016-09-13","t":"Type 0","v":0.972744},{"d":"2016-09-14","t":"Type 0","v":0.972744},{"d":"2016-09-15","t":"Type 0","v":0.972744},{"d":"2016-09-16","t":"Type 0","v":0.972744},{"d":"2016-09-17","t":"Type 0","v":0.972744},{"d":"2016-09-18","t":"Type 0","v":0.972744},
{"d":"2016-09-19","t":"Type 0","v":0.972744},{"d":"2016-09-20","t":"Type 0","v":0.972744},{"d":"2016-09-21","t":"Type 0","v":0.972744},{"d":"2016-09-22","t":"Type 0","v":0.972744},{"d":"2016-09-23","t":"Type 0","v":0.972744},{"d":"2016-09-24","t":"Type 0","v":0.972744},{"d":"2016-09-25","t":"Type 0","v":0.972744},{"d":"2016-09-26","t":"Type 0","v":0.972744},{"d":"2016-09-27","t":"Type 0","v":0.972744},{"d":"2016-09-28","t":"Type 0","v":0.972744},
{"d":"2016-09-29","t":"Type 0","v":0.972744},
{"d":"2016-07-01","t":"Type 1","v":0.973219},{"d":"2016-07-02","t":"Type 1","v":0.973219},{"d":"2016-07-03","t":"Type 1","v":0.973219},{"d":"2016-07-04","t":"Type 1","v":0.973219},{"d":"2016-07-05","t":"Type 1","v":0.973221},{"d":"2016-07-06","t":"Type 1","v":0.973219},{"d":"2016-07-07","t":"Type 1","v":0.973219},{"d":"2016-07-08","t":"Type 1","v":0.973218},{"d":"2016-07-09","t":"Type 1","v":0.97321},{"d":"2016-07-10","t":"Type 1","v":0.97321},
{"d":"2016-07-11","t":"Type 1","v":0.97321},{"d":"2016-07-12","t":"Type 1","v":0.97321},{"d":"2016-07-13","t":"Type 1","v":0.97321},{"d":"2016-07-14","t":"Type 1","v":0.97321},{"d":"2016-07-15","t":"Type 1","v":0.97321},{"d":"2016-07-16","t":"Type 1","v":0.97321},{"d":"2016-07-17","t":"Type 1","v":0.97321},{"d":"2016-07-18","t":"Type 1","v":0.97321},{"d":"2016-07-19","t":"Type 1","v":0.97321},{"d":"2016-07-20","t":"Type 1","v":0.97321},
{"d":"2016-07-21","t":"Type 1","v":0.97321},{"d":"2016-07-22","t":"Type 1","v":0.97321},{"d":"2016-07-23","t":"Type 1","v":0.97321},{"d":"2016-07-24","t":"Type 1","v":0.97321},{"d":"2016-07-25","t":"Type 1","v":0.97321},{"d":"2016-07-26","t":"Type 1","v":0.97321},{"d":"2016-07-27","t":"Type 1","v":0.97321},{"d":"2016-07-28","t":"Type 1","v":0.97321},{"d":"2016-07-29","t":"Type 1","v":0.97321},{"d":"2016-07-30","t":"Type 1","v":0.97321},
{"d":"2016-07-31","t":"Type 1","v":0.97321},{"d":"2016-08-01","t":"Type 1","v":0.97321},{"d":"2016-08-02","t":"Type 1","v":0.97321},{"d":"2016-08-03","t":"Type 1","v":0.97321},{"d":"2016-08-04","t":"Type 1","v":0.97321},{"d":"2016-08-05","t":"Type 1","v":0.97321},{"d":"2016-08-06","t":"Type 1","v":0.97321},{"d":"2016-08-07","t":"Type 1","v":0.97321},{"d":"2016-08-08","t":"Type 1","v":0.97321},{"d":"2016-08-09","t":"Type 1","v":0.97321},
{"d":"2016-08-10","t":"Type 1","v":0.97321},{"d":"2016-08-11","t":"Type 1","v":0.97321},{"d":"2016-08-12","t":"Type 1","v":0.97321},{"d":"2016-08-13","t":"Type 1","v":0.97321},{"d":"2016-08-14","t":"Type 1","v":0.97321},{"d":"2016-08-15","t":"Type 1","v":0.97321},{"d":"2016-08-16","t":"Type 1","v":0.97321},{"d":"2016-08-17","t":"Type 1","v":0.97321},{"d":"2016-08-18","t":"Type 1","v":0.97321},{"d":"2016-08-19","t":"Type 1","v":0.97321},
{"d":"2016-08-20","t":"Type 1","v":0.97321},{"d":"2016-08-21","t":"Type 1","v":0.97321},{"d":"2016-08-22","t":"Type 1","v":0.97321},{"d":"2016-08-23","t":"Type 1","v":0.97321},{"d":"2016-08-24","t":"Type 1","v":0.97321},{"d":"2016-08-25","t":"Type 1","v":0.97321},{"d":"2016-08-26","t":"Type 1","v":0.97321},{"d":"2016-08-27","t":"Type 1","v":0.97321},{"d":"2016-08-28","t":"Type 1","v":0.97321},{"d":"2016-08-29","t":"Type 1","v":0.97321},
{"d":"2016-08-30","t":"Type 1","v":0.97321},{"d":"2016-08-31","t":"Type 1","v":0.97321},{"d":"2016-09-01","t":"Type 1","v":0.97321},{"d":"2016-09-02","t":"Type 1","v":0.97321},{"d":"2016-09-03","t":"Type 1","v":0.97321},{"d":"2016-09-04","t":"Type 1","v":0.97321},{"d":"2016-09-05","t":"Type 1","v":0.97321},{"d":"2016-09-06","t":"Type 1","v":0.97321},{"d":"2016-09-07","t":"Type 1","v":0.97321},{"d":"2016-09-08","t":"Type 1","v":0.97321},
{"d":"2016-09-09","t":"Type 1","v":0.97321},{"d":"2016-09-10","t":"Type 1","v":0.97321},{"d":"2016-09-11","t":"Type 1","v":0.97321},{"d":"2016-09-12","t":"Type 1","v":0.97321},{"d":"2016-09-13","t":"Type 1","v":0.97321},{"d":"2016-09-14","t":"Type 1","v":0.97321},{"d":"2016-09-15","t":"Type 1","v":0.97321},{"d":"2016-09-16","t":"Type 1","v":0.97321},{"d":"2016-09-17","t":"Type 1","v":0.97321},{"d":"2016-09-18","t":"Type 1","v":0.97321},
{"d":"2016-09-19","t":"Type 1","v":0.97321},{"d":"2016-09-20","t":"Type 1","v":0.97321},{"d":"2016-09-21","t":"Type 1","v":0.97321},{"d":"2016-09-22","t":"Type 1","v":0.97321},{"d":"2016-09-23","t":"Type 1","v":0.97321},{"d":"2016-09-24","t":"Type 1","v":0.97321},{"d":"2016-09-25","t":"Type 1","v":0.97321},{"d":"2016-09-26","t":"Type 1","v":0.97321},{"d":"2016-09-27","t":"Type 1","v":0.97321},{"d":"2016-09-28","t":"Type 1","v":0.97321},
{"d":"2016-09-29","t":"Type 1","v":0.97321},
{"d":"2016-07-01","t":"Type 2","v":0.973781},{"d":"2016-07-02","t":"Type 2","v":0.973781},{"d":"2016-07-03","t":"Type 2","v":0.973783},{"d":"2016-07-04","t":"Type 2","v":0.973783},{"d":"2016-07-05","t":"Type 2","v":0.973781},{"d":"2016-07-06","t":"Type 2","v":0.973781},{"d":"2016-07-07","t":"Type 2","v":0.973781},{"d":"2016-07-08","t":"Type 2","v":0.973778},{"d":"2016-07-09","t":"Type 2","v":0.973772},{"d":"2016-07-10","t":"Type 2","v":0.973772},
{"d":"2016-07-11","t":"Type 2","v":0.973772},{"d":"2016-07-12","t":"Type 2","v":0.973772},{"d":"2016-07-13","t":"Type 2","v":0.973772},{"d":"2016-07-14","t":"Type 2","v":0.973772},{"d":"2016-07-15","t":"Type 2","v":0.973772},{"d":"2016-07-16","t":"Type 2","v":0.973772},{"d":"2016-07-17","t":"Type 2","v":0.973772},{"d":"2016-07-18","t":"Type 2","v":0.973777},{"d":"2016-07-19","t":"Type 2","v":0.973777},{"d":"2016-07-20","t":"Type 2","v":0.973777},
{"d":"2016-07-21","t":"Type 2","v":0.973777},{"d":"2016-07-22","t":"Type 2","v":0.973772},{"d":"2016-07-23","t":"Type 2","v":0.973772},{"d":"2016-07-24","t":"Type 2","v":0.973772},{"d":"2016-07-25","t":"Type 2","v":0.973769},{"d":"2016-07-26","t":"Type 2","v":0.97376},{"d":"2016-07-27","t":"Type 2","v":0.973775},{"d":"2016-07-28","t":"Type 2","v":0.973773},{"d":"2016-07-29","t":"Type 2","v":0.973773},{"d":"2016-07-30","t":"Type 2","v":0.973773},
{"d":"2016-07-31","t":"Type 2","v":0.973773},{"d":"2016-08-01","t":"Type 2","v":0.973773},{"d":"2016-08-02","t":"Type 2","v":0.973773},{"d":"2016-08-03","t":"Type 2","v":0.973773},{"d":"2016-08-04","t":"Type 2","v":0.973773},{"d":"2016-08-05","t":"Type 2","v":0.973773},{"d":"2016-08-06","t":"Type 2","v":0.973773},{"d":"2016-08-07","t":"Type 2","v":0.973773},{"d":"2016-08-08","t":"Type 2","v":0.973773},{"d":"2016-08-09","t":"Type 2","v":0.973773},
{"d":"2016-08-10","t":"Type 2","v":0.973773},{"d":"2016-08-11","t":"Type 2","v":0.973773},{"d":"2016-08-12","t":"Type 2","v":0.973773},{"d":"2016-08-13","t":"Type 2","v":0.973773},{"d":"2016-08-14","t":"Type 2","v":0.973773},{"d":"2016-08-15","t":"Type 2","v":0.973773},{"d":"2016-08-16","t":"Type 2","v":0.973773},{"d":"2016-08-17","t":"Type 2","v":0.973773},{"d":"2016-08-18","t":"Type 2","v":0.973773},{"d":"2016-08-19","t":"Type 2","v":0.973773},
{"d":"2016-08-20","t":"Type 2","v":0.973773},{"d":"2016-08-21","t":"Type 2","v":0.973773},{"d":"2016-08-22","t":"Type 2","v":0.973773},{"d":"2016-08-23","t":"Type 2","v":0.973773},{"d":"2016-08-24","t":"Type 2","v":0.973773},{"d":"2016-08-25","t":"Type 2","v":0.973771},{"d":"2016-08-26","t":"Type 2","v":0.973771},{"d":"2016-08-27","t":"Type 2","v":0.973771},{"d":"2016-08-28","t":"Type 2","v":0.973771},{"d":"2016-08-29","t":"Type 2","v":0.973771},
{"d":"2016-08-30","t":"Type 2","v":0.973771},{"d":"2016-08-31","t":"Type 2","v":0.973773},{"d":"2016-09-01","t":"Type 2","v":0.973773},{"d":"2016-09-02","t":"Type 2","v":0.973773},{"d":"2016-09-03","t":"Type 2","v":0.973773},{"d":"2016-09-04","t":"Type 2","v":0.973773},{"d":"2016-09-05","t":"Type 2","v":0.973773},{"d":"2016-09-06","t":"Type 2","v":0.973773},{"d":"2016-09-07","t":"Type 2","v":0.973773},{"d":"2016-09-08","t":"Type 2","v":0.973773},
{"d":"2016-09-09","t":"Type 2","v":0.973773},{"d":"2016-09-10","t":"Type 2","v":0.973773},{"d":"2016-09-11","t":"Type 2","v":0.973773},{"d":"2016-09-12","t":"Type 2","v":0.973773},{"d":"2016-09-13","t":"Type 2","v":0.973773},{"d":"2016-09-14","t":"Type 2","v":0.973773},{"d":"2016-09-15","t":"Type 2","v":0.973773},{"d":"2016-09-16","t":"Type 2","v":0.973773},{"d":"2016-09-17","t":"Type 2","v":0.973773},{"d":"2016-09-18","t":"Type 2","v":0.973773},
{"d":"2016-09-19","t":"Type 2","v":0.973773},{"d":"2016-09-20","t":"Type 2","v":0.973773},{"d":"2016-09-21","t":"Type 2","v":0.973773},{"d":"2016-09-22","t":"Type 2","v":0.973773},{"d":"2016-09-23","t":"Type 2","v":0.973773},{"d":"2016-09-24","t":"Type 2","v":0.973773},{"d":"2016-09-25","t":"Type 2","v":0.973773},{"d":"2016-09-26","t":"Type 2","v":0.973773},{"d":"2016-09-27","t":"Type 2","v":0.973773},{"d":"2016-09-28","t":"Type 2","v":0.973773},
{"d":"2016-09-29","t":"Type 2","v":0.973773}
],
"p4": [
{"d":"2016-07-01","t":"Type 0","v":-0.18847},{"d":"2016-07-02","t":"Type 0","v":-0.18846},{"d":"2016-07-03","t":"Type 0","v":-0.188465},{"d":"2016-07-04","t":"Type 0","v":-0.188465},{"d":"2016-07-05","t":"Type 0","v":-0.188455},{"d":"2016-07-06","t":"Type 0","v":-0.188455},{"d":"2016-07-07","t":"Type 0","v":-0.188455},{"d":"2016-07-08","t":"Type 0","v":-0.188455},{"d":"2016-07-09","t":"Type 0","v":-0.188455},{"d":"2016-07-10","t":"Type 0","v":-0.188455},
{"d":"2016-07-11","t":"Type 0","v":-0.188455},{"d":"2016-07-12","t":"Type 0","v":-0.188455},{"d":"2016-07-13","t":"Type 0","v":-0.188455},{"d":"2016-07-14","t":"Type 0","v":-0.188455},{"d":"2016-07-15","t":"Type 0","v":-0.188455},{"d":"2016-07-16","t":"Type 0","v":-0.188455},{"d":"2016-07-17","t":"Type 0","v":-0.18846},{"d":"2016-07-18","t":"Type 0","v":-0.18846},{"d":"2016-07-19","t":"Type 0","v":-0.18846},{"d":"2016-07-20","t":"Type 0","v":-0.18846},
{"d":"2016-07-21","t":"Type 0","v":-0.18846},{"d":"2016-07-22","t":"Type 0","v":-0.18846},{"d":"2016-07-23","t":"Type 0","v":-0.18846},{"d":"2016-07-24","t":"Type 0","v":-0.188445},{"d":"2016-07-25","t":"Type 0","v":-0.188445},{"d":"2016-07-26","t":"Type 0","v":-0.188445},{"d":"2016-07-27","t":"Type 0","v":-0.188445},{"d":"2016-07-28","t":"Type 0","v":-0.188445},{"d":"2016-07-29","t":"Type 0","v":-0.188445},{"d":"2016-07-30","t":"Type 0","v":-0.188445},
{"d":"2016-07-31","t":"Type 0","v":-0.188445},{"d":"2016-08-01","t":"Type 0","v":-0.188445},{"d":"2016-08-02","t":"Type 0","v":-0.188435},{"d":"2016-08-03","t":"Type 0","v":-0.188435},{"d":"2016-08-04","t":"Type 0","v":-0.188435},{"d":"2016-08-05","t":"Type 0","v":-0.188435},{"d":"2016-08-06","t":"Type 0","v":-0.188435},{"d":"2016-08-07","t":"Type 0","v":-0.188435},{"d":"2016-08-08","t":"Type 0","v":-0.188435},{"d":"2016-08-09","t":"Type 0","v":-0.188435},
{"d":"2016-08-10","t":"Type 0","v":-0.188435},{"d":"2016-08-11","t":"Type 0","v":-0.188435},{"d":"2016-08-12","t":"Type 0","v":-0.188435},{"d":"2016-08-13","t":"Type 0","v":-0.188435},{"d":"2016-08-14","t":"Type 0","v":-0.188435},{"d":"2016-08-15","t":"Type 0","v":-0.188435},{"d":"2016-08-16","t":"Type 0","v":-0.18845},{"d":"2016-08-17","t":"Type 0","v":-0.18845},{"d":"2016-08-18","t":"Type 0","v":-0.18845},{"d":"2016-08-19","t":"Type 0","v":-0.18845},
{"d":"2016-08-20","t":"Type 0","v":-0.18845},{"d":"2016-08-21","t":"Type 0","v":-0.18845},{"d":"2016-08-22","t":"Type 0","v":-0.18845},{"d":"2016-08-23","t":"Type 0","v":-0.18845},{"d":"2016-08-24","t":"Type 0","v":-0.18845},{"d":"2016-08-25","t":"Type 0","v":-0.18845},{"d":"2016-08-26","t":"Type 0","v":-0.18845},{"d":"2016-08-27","t":"Type 0","v":-0.18845},{"d":"2016-08-28","t":"Type 0","v":-0.18845},{"d":"2016-08-29","t":"Type 0","v":-0.18845},
{"d":"2016-08-30","t":"Type 0","v":-0.18845},{"d":"2016-08-31","t":"Type 0","v":-0.188445},{"d":"2016-09-01","t":"Type 0","v":-0.188445},{"d":"2016-09-02","t":"Type 0","v":-0.188445},{"d":"2016-09-03","t":"Type 0","v":-0.188445},{"d":"2016-09-04","t":"Type 0","v":-0.188445},{"d":"2016-09-05","t":"Type 0","v":-0.188445},{"d":"2016-09-06","t":"Type 0","v":-0.188445},{"d":"2016-09-07","t":"Type 0","v":-0.188445},{"d":"2016-09-08","t":"Type 0","v":-0.188445},
{"d":"2016-09-09","t":"Type 0","v":-0.188445},{"d":"2016-09-10","t":"Type 0","v":-0.188445},{"d":"2016-09-11","t":"Type 0","v":-0.188445},{"d":"2016-09-12","t":"Type 0","v":-0.188445},{"d":"2016-09-13","t":"Type 0","v":-0.188445},{"d":"2016-09-14","t":"Type 0","v":-0.188445},{"d":"2016-09-15","t":"Type 0","v":-0.18845},{"d":"2016-09-16","t":"Type 0","v":-0.18845},{"d":"2016-09-17","t":"Type 0","v":-0.18845},{"d":"2016-09-18","t":"Type 0","v":-0.18845},
{"d":"2016-09-19","t":"Type 0","v":-0.18845},{"d":"2016-09-20","t":"Type 0","v":-0.18845},{"d":"2016-09-21","t":"Type 0","v":-0.18845},{"d":"2016-09-22","t":"Type 0","v":-0.18845},{"d":"2016-09-23","t":"Type 0","v":-0.18845},{"d":"2016-09-24","t":"Type 0","v":-0.18845},{"d":"2016-09-25","t":"Type 0","v":-0.18845},{"d":"2016-09-26","t":"Type 0","v":-0.18845},{"d":"2016-09-27","t":"Type 0","v":-0.18845},{"d":"2016-09-28","t":"Type 0","v":-0.18845},
{"d":"2016-09-29","t":"Type 0","v":-0.18847},
{"d":"2016-07-01","t":"Type 1","v":-0.189905},{"d":"2016-07-02","t":"Type 1","v":-0.189905},{"d":"2016-07-03","t":"Type 1","v":-0.189905},{"d":"2016-07-04","t":"Type 1","v":-0.189905},{"d":"2016-07-05","t":"Type 1","v":-0.189905},{"d":"2016-07-06","t":"Type 1","v":-0.189905},{"d":"2016-07-07","t":"Type 1","v":-0.189905},{"d":"2016-07-08","t":"Type 1","v":-0.189905},{"d":"2016-07-09","t":"Type 1","v":-0.189895},{"d":"2016-07-10","t":"Type 1","v":-0.189895},
{"d":"2016-07-11","t":"Type 1","v":-0.189895},{"d":"2016-07-12","t":"Type 1","v":-0.189895},{"d":"2016-07-13","t":"Type 1","v":-0.189895},{"d":"2016-07-14","t":"Type 1","v":-0.189895},{"d":"2016-07-15","t":"Type 1","v":-0.189895},{"d":"2016-07-16","t":"Type 1","v":-0.189895},{"d":"2016-07-17","t":"Type 1","v":-0.189895},{"d":"2016-07-18","t":"Type 1","v":-0.189895},{"d":"2016-07-19","t":"Type 1","v":-0.189895},{"d":"2016-07-20","t":"Type 1","v":-0.189895},
{"d":"2016-07-21","t":"Type 1","v":-0.189895},{"d":"2016-07-22","t":"Type 1","v":-0.189895},{"d":"2016-07-23","t":"Type 1","v":-0.189895},{"d":"2016-07-24","t":"Type 1","v":-0.189895},{"d":"2016-07-25","t":"Type 1","v":-0.189895},{"d":"2016-07-26","t":"Type 1","v":-0.189895},{"d":"2016-07-27","t":"Type 1","v":-0.189895},{"d":"2016-07-28","t":"Type 1","v":-0.189895},{"d":"2016-07-29","t":"Type 1","v":-0.189895},{"d":"2016-07-30","t":"Type 1","v":-0.189895},
{"d":"2016-07-31","t":"Type 1","v":-0.189885},{"d":"2016-08-01","t":"Type 1","v":-0.189885},{"d":"2016-08-02","t":"Type 1","v":-0.189885},{"d":"2016-08-03","t":"Type 1","v":-0.189885},{"d":"2016-08-04","t":"Type 1","v":-0.189885},{"d":"2016-08-05","t":"Type 1","v":-0.189885},{"d":"2016-08-06","t":"Type 1","v":-0.189885},{"d":"2016-08-07","t":"Type 1","v":-0.189885},{"d":"2016-08-08","t":"Type 1","v":-0.189885},{"d":"2016-08-09","t":"Type 1","v":-0.189885},
{"d":"2016-08-10","t":"Type 1","v":-0.189885},{"d":"2016-08-11","t":"Type 1","v":-0.189885},{"d":"2016-08-12","t":"Type 1","v":-0.189885},{"d":"2016-08-13","t":"Type 1","v":-0.189885},{"d":"2016-08-14","t":"Type 1","v":-0.189885},{"d":"2016-08-15","t":"Type 1","v":-0.189885},{"d":"2016-08-16","t":"Type 1","v":-0.189885},{"d":"2016-08-17","t":"Type 1","v":-0.189885},{"d":"2016-08-18","t":"Type 1","v":-0.189885},{"d":"2016-08-19","t":"Type 1","v":-0.189885},
{"d":"2016-08-20","t":"Type 1","v":-0.189885},{"d":"2016-08-21","t":"Type 1","v":-0.189892},{"d":"2016-08-22","t":"Type 1","v":-0.189892},{"d":"2016-08-23","t":"Type 1","v":-0.189892},{"d":"2016-08-24","t":"Type 1","v":-0.189892},{"d":"2016-08-25","t":"Type 1","v":-0.189892},{"d":"2016-08-26","t":"Type 1","v":-0.189892},{"d":"2016-08-27","t":"Type 1","v":-0.189892},{"d":"2016-08-28","t":"Type 1","v":-0.189892},{"d":"2016-08-29","t":"Type 1","v":-0.189892},
{"d":"2016-08-30","t":"Type 1","v":-0.189892},{"d":"2016-08-31","t":"Type 1","v":-0.189892},{"d":"2016-09-01","t":"Type 1","v":-0.189892},{"d":"2016-09-02","t":"Type 1","v":-0.189892},{"d":"2016-09-03","t":"Type 1","v":-0.189892},{"d":"2016-09-04","t":"Type 1","v":-0.189892},{"d":"2016-09-05","t":"Type 1","v":-0.189892},{"d":"2016-09-06","t":"Type 1","v":-0.189892},{"d":"2016-09-07","t":"Type 1","v":-0.189892},{"d":"2016-09-08","t":"Type 1","v":-0.189892},
{"d":"2016-09-09","t":"Type 1","v":-0.189892},{"d":"2016-09-10","t":"Type 1","v":-0.189892},{"d":"2016-09-11","t":"Type 1","v":-0.189892},{"d":"2016-09-12","t":"Type 1","v":-0.189892},{"d":"2016-09-13","t":"Type 1","v":-0.189892},{"d":"2016-09-14","t":"Type 1","v":-0.189892},{"d":"2016-09-15","t":"Type 1","v":-0.189892},{"d":"2016-09-16","t":"Type 1","v":-0.189892},{"d":"2016-09-17","t":"Type 1","v":-0.189892},{"d":"2016-09-18","t":"Type 1","v":-0.189892},
{"d":"2016-09-19","t":"Type 1","v":-0.189892},{"d":"2016-09-20","t":"Type 1","v":-0.189892},{"d":"2016-09-21","t":"Type 1","v":-0.189892},{"d":"2016-09-22","t":"Type 1","v":-0.189892},{"d":"2016-09-23","t":"Type 1","v":-0.189892},{"d":"2016-09-24","t":"Type 1","v":-0.189892},{"d":"2016-09-25","t":"Type 1","v":-0.189892},{"d":"2016-09-26","t":"Type 1","v":-0.189892},{"d":"2016-09-27","t":"Type 1","v":-0.189892},{"d":"2016-09-28","t":"Type 1","v":-0.189892},
{"d":"2016-09-29","t":"Type 1","v":-0.189892},
{"d":"2016-07-01","t":"Type 2","v":-0.191895},{"d":"2016-07-02","t":"Type 2","v":-0.191895},{"d":"2016-07-03","t":"Type 2","v":-0.191895},{"d":"2016-07-04","t":"Type 2","v":-0.191895},{"d":"2016-07-05","t":"Type 2","v":-0.191895},{"d":"2016-07-06","t":"Type 2","v":-0.191895},{"d":"2016-07-07","t":"Type 2","v":-0.191895},{"d":"2016-07-08","t":"Type 2","v":-0.191895},{"d":"2016-07-09","t":"Type 2","v":-0.191882},{"d":"2016-07-10","t":"Type 2","v":-0.191882},
{"d":"2016-07-11","t":"Type 2","v":-0.191882},{"d":"2016-07-12","t":"Type 2","v":-0.191882},{"d":"2016-07-13","t":"Type 2","v":-0.191882},{"d":"2016-07-14","t":"Type 2","v":-0.191882},{"d":"2016-07-15","t":"Type 2","v":-0.191882},{"d":"2016-07-16","t":"Type 2","v":-0.191882},{"d":"2016-07-17","t":"Type 2","v":-0.191882},{"d":"2016-07-18","t":"Type 2","v":-0.191882},{"d":"2016-07-19","t":"Type 2","v":-0.191882},{"d":"2016-07-20","t":"Type 2","v":-0.191882},
{"d":"2016-07-21","t":"Type 2","v":-0.191882},{"d":"2016-07-22","t":"Type 2","v":-0.191882},{"d":"2016-07-23","t":"Type 2","v":-0.191882},{"d":"2016-07-24","t":"Type 2","v":-0.191882},{"d":"2016-07-25","t":"Type 2","v":-0.191882},{"d":"2016-07-26","t":"Type 2","v":-0.191882},{"d":"2016-07-27","t":"Type 2","v":-0.191882},{"d":"2016-07-28","t":"Type 2","v":-0.191882},{"d":"2016-07-29","t":"Type 2","v":-0.191882},{"d":"2016-07-30","t":"Type 2","v":-0.191882},
{"d":"2016-07-31","t":"Type 2","v":-0.191882},{"d":"2016-08-01","t":"Type 2","v":-0.191882},{"d":"2016-08-02","t":"Type 2","v":-0.191882},{"d":"2016-08-03","t":"Type 2","v":-0.191882},{"d":"2016-08-04","t":"Type 2","v":-0.191882},{"d":"2016-08-05","t":"Type 2","v":-0.191882},{"d":"2016-08-06","t":"Type 2","v":-0.191882},{"d":"2016-08-07","t":"Type 2","v":-0.191882},{"d":"2016-08-08","t":"Type 2","v":-0.191882},{"d":"2016-08-09","t":"Type 2","v":-0.191882},
{"d":"2016-08-10","t":"Type 2","v":-0.191882},{"d":"2016-08-11","t":"Type 2","v":-0.191882},{"d":"2016-08-12","t":"Type 2","v":-0.191882},{"d":"2016-08-13","t":"Type 2","v":-0.191882},{"d":"2016-08-14","t":"Type 2","v":-0.191882},{"d":"2016-08-15","t":"Type 2","v":-0.191882},{"d":"2016-08-16","t":"Type 2","v":-0.191882},{"d":"2016-08-17","t":"Type 2","v":-0.191882},{"d":"2016-08-18","t":"Type 2","v":-0.191882},{"d":"2016-08-19","t":"Type 2","v":-0.191882},
{"d":"2016-08-20","t":"Type 2","v":-0.191882},{"d":"2016-08-21","t":"Type 2","v":-0.191882},{"d":"2016-08-22","t":"Type 2","v":-0.191882},{"d":"2016-08-23","t":"Type 2","v":-0.191882},{"d":"2016-08-24","t":"Type 2","v":-0.191882},{"d":"2016-08-25","t":"Type 2","v":-0.191882},{"d":"2016-08-26","t":"Type 2","v":-0.191882},{"d":"2016-08-27","t":"Type 2","v":-0.191882},{"d":"2016-08-28","t":"Type 2","v":-0.191882},{"d":"2016-08-29","t":"Type 2","v":-0.191882},
{"d":"2016-08-30","t":"Type 2","v":-0.191882},{"d":"2016-08-31","t":"Type 2","v":-0.191882},{"d":"2016-09-01","t":"Type 2","v":-0.191882},{"d":"2016-09-02","t":"Type 2","v":-0.191882},{"d":"2016-09-03","t":"Type 2","v":-0.191882},{"d":"2016-09-04","t":"Type 2","v":-0.191882},{"d":"2016-09-05","t":"Type 2","v":-0.191882},{"d":"2016-09-06","t":"Type 2","v":-0.191882},{"d":"2016-09-07","t":"Type 2","v":-0.191882},{"d":"2016-09-08","t":"Type 2","v":-0.191882},
{"d":"2016-09-09","t":"Type 2","v":-0.191882},{"d":"2016-09-10","t":"Type 2","v":-0.191882},{"d":"2016-09-11","t":"Type 2","v":-0.191882},{"d":"2016-09-12","t":"Type 2","v":-0.191882},{"d":"2016-09-13","t":"Type 2","v":-0.191882},{"d":"2016-09-14","t":"Type 2","v":-0.191882},{"d":"2016-09-15","t":"Type 2","v":-0.191882},{"d":"2016-09-16","t":"Type 2","v":-0.191882},{"d":"2016-09-17","t":"Type 2","v":-0.191882},{"d":"2016-09-18","t":"Type 2","v":-0.191882},
{"d":"2016-09-19","t":"Type 2","v":-0.191882},{"d":"2016-09-20","t":"Type 2","v":-0.191882},{"d":"2016-09-21","t":"Type 2","v":-0.191882},{"d":"2016-09-22","t":"Type 2","v":-0.19185},{"d":"2016-09-23","t":"Type 2","v":-0.191885},{"d":"2016-09-24","t":"Type 2","v":-0.191882},{"d":"2016-09-25","t":"Type 2","v":-0.191882},{"d":"2016-09-26","t":"Type 2","v":-0.191882},{"d":"2016-09-27","t":"Type 2","v":-0.191882},{"d":"2016-09-28","t":"Type 2","v":-0.191882},
{"d":"2016-09-29","t":"Type 2","v":-0.191882}
]
},
"vconcat": [
{
 "width": 1086, "height": 311,
 "title": "Type Bias Daily Average, Detection Metrics 1",
 "data": {"name": "p1", "format": {"parse": {"d": "date:'%Y-%m-%d'"}}},
 "layer": [
  {"mark": {"type": "line", "strokeWidth": 1.5},
   "encoding": {
    "x": {"field": "d", "type": "temporal", "scale": {"domain": [{"year": 2016, "month": 7, "date": 1}, {"year": 2016, "month": 9, "date": 30}]}, "axis": {"orient": "bottom", "title": null, "values": [{"year":2016,"month":7,"date":2},{"year":2016,"month":7,"date":9},{"year":2016,"month":7,"date":16},{"year":2016,"month":7,"date":23},{"year":2016,"month":7,"date":30},{"year":2016,"month":8,"date":6},{"year":2016,"month":8,"date":13},{"year":2016,"month":8,"date":20},{"year":2016,"month":8,"date":27},{"year":2016,"month":9,"date":3},{"year":2016,"month":9,"date":10},{"year":2016,"month":9,"date":17},{"year":2016,"month":9,"date":24}], "tickSize": -6, "labelPadding": 16, "labelFlush": false, "labelOverlap": false, "labelExpr": "round((datum.value - datetime(2016,6,9))/86400000) % 14 == 0 ? timeFormat(datum.value, '%m%d%y') : ''"}},
    "y": {"field": "v", "type": "quantitative", "scale": {"domain": [1.317, 1.3215], "zero": false, "nice": false}, "axis": {"orient": "left", "title": null, "values": [1.317,1.3175,1.318,1.3185,1.319,1.3195,1.32,1.3205,1.321,1.3215], "format": "~g", "labelExpr": "replace(datum.label, '−', '-')", "tickSize": -15, "labelPadding": 27, "minExtent": 79, "maxExtent": 79}},
    "stroke": {"field": "t", "type": "nominal", "scale": {"domain": ["Type 0", "Type 1", "Type 2"], "range": ["#ff0000", "#00ff00", "#0000ff"]}, "legend": {"title": null, "symbolType": "M-3.75,0L3.75,0M0,-0.56L0.56,0L0,0.56L-0.56,0Z"}}
   }},
  {"mark": {"type": "point", "shape": "diamond", "filled": true, "size": 100, "strokeWidth": 1, "opacity": 1},
   "encoding": {
    "x": {"field": "d", "type": "temporal", "axis": {"orient": "top", "title": null, "labels": false, "values": [{"year":2016,"month":7,"date":2},{"year":2016,"month":7,"date":9},{"year":2016,"month":7,"date":16},{"year":2016,"month":7,"date":23},{"year":2016,"month":7,"date":30},{"year":2016,"month":8,"date":6},{"year":2016,"month":8,"date":13},{"year":2016,"month":8,"date":20},{"year":2016,"month":8,"date":27},{"year":2016,"month":9,"date":3},{"year":2016,"month":9,"date":10},{"year":2016,"month":9,"date":17},{"year":2016,"month":9,"date":24}], "tickSize": -6}},
    "y": {"field": "v", "type": "quantitative", "axis": {"orient": "right", "title": null, "labels": false, "values": [1.317,1.3175,1.318,1.3185,1.319,1.3195,1.32,1.3205,1.321,1.3215], "tickSize": -15}},
    "fill": {"field": "t", "type": "nominal", "scale": {"domain": ["Type 0", "Type 1", "Type 2"], "range": ["#ff0000", "#00ff00", "#0000ff"]}, "legend": {"title": null, "symbolType": "M-3.75,0L3.75,0M0,-0.56L0.56,0L0,0.56L-0.56,0Z"}},
    "stroke": {"field": "t", "type": "nominal"}
   }},
  {"mark": {"type": "point", "opacity": 0},
   "encoding": {
    "x": {"field": "d", "type": "temporal", "axis": {"orient": "bottom", "title": null, "labels": false, "values": [{"year":2016,"month":7,"date":9},{"year":2016,"month":7,"date":23},{"year":2016,"month":8,"date":6},{"year":2016,"month":8,"date":20},{"year":2016,"month":9,"date":3},{"year":2016,"month":9,"date":17}], "tickSize": -12}},
    "y": {"field": "v", "type": "quantitative", "axis": null}
   }},
  {"mark": {"type": "point", "opacity": 0},
   "encoding": {
    "x": {"field": "d", "type": "temporal", "axis": {"orient": "top", "title": null, "labels": false, "values": [{"year":2016,"month":7,"date":9},{"year":2016,"month":7,"date":23},{"year":2016,"month":8,"date":6},{"year":2016,"month":8,"date":20},{"year":2016,"month":9,"date":3},{"year":2016,"month":9,"date":17}], "tickSize": -10}},
    "y": {"field": "v", "type": "quantitative", "axis": null}
   }}
 ],
 "resolve": {"axis": {"x": "independent", "y": "independent"}}
},
{
 "width": 1086, "height": 311,
 "title": "Type Bias Daily Average, Detection Metrics 2",
 "data": {"name": "p2", "format": {"parse": {"d": "date:'%Y-%m-%d'"}}},
 "layer": [
  {"mark": {"type": "line", "strokeWidth": 1.5},
   "encoding": {
    "x": {"field": "d", "type": "temporal", "scale": {"domain": [{"year": 2016, "month": 7, "date": 1}, {"year": 2016, "month": 9, "date": 30}]}, "axis": {"orient": "bottom", "title": null, "values": [{"year":2016,"month":7,"date":2},{"year":2016,"month":7,"date":9},{"year":2016,"month":7,"date":16},{"year":2016,"month":7,"date":23},{"year":2016,"month":7,"date":30},{"year":2016,"month":8,"date":6},{"year":2016,"month":8,"date":13},{"year":2016,"month":8,"date":20},{"year":2016,"month":8,"date":27},{"year":2016,"month":9,"date":3},{"year":2016,"month":9,"date":10},{"year":2016,"month":9,"date":17},{"year":2016,"month":9,"date":24}], "tickSize": -6, "labelPadding": 16, "labelFlush": false, "labelOverlap": false, "labelExpr": "round((datum.value - datetime(2016,6,9))/86400000) % 14 == 0 ? timeFormat(datum.value, '%m%d%y') : ''"}},
    "y": {"field": "v", "type": "quantitative", "scale": {"domain": [0.243, 0.25], "zero": false, "nice": false}, "axis": {"orient": "left", "title": null, "values": [0.243,0.244,0.245,0.246,0.247,0.248,0.249,0.25], "format": "~g", "labelExpr": "replace(datum.label, '−', '-')", "tickSize": -15, "labelPadding": 27, "minExtent": 79, "maxExtent": 79}},
    "stroke": {"field": "t", "type": "nominal", "scale": {"domain": ["Type 0", "Type 1", "Type 2"], "range": ["#ff0000", "#00ff00", "#0000ff"]}, "legend": {"title": null, "symbolType": "M-3.75,0L3.75,0M0,-0.56L0.56,0L0,0.56L-0.56,0Z"}}
   }},
  {"mark": {"type": "point", "shape": "diamond", "filled": true, "size": 100, "strokeWidth": 1, "opacity": 1},
   "encoding": {
    "x": {"field": "d", "type": "temporal", "axis": {"orient": "top", "title": null, "labels": false, "values": [{"year":2016,"month":7,"date":2},{"year":2016,"month":7,"date":9},{"year":2016,"month":7,"date":16},{"year":2016,"month":7,"date":23},{"year":2016,"month":7,"date":30},{"year":2016,"month":8,"date":6},{"year":2016,"month":8,"date":13},{"year":2016,"month":8,"date":20},{"year":2016,"month":8,"date":27},{"year":2016,"month":9,"date":3},{"year":2016,"month":9,"date":10},{"year":2016,"month":9,"date":17},{"year":2016,"month":9,"date":24}], "tickSize": -6}},
    "y": {"field": "v", "type": "quantitative", "axis": {"orient": "right", "title": null, "labels": false, "values": [0.243,0.244,0.245,0.246,0.247,0.248,0.249,0.25], "tickSize": -15}},
    "fill": {"field": "t", "type": "nominal", "scale": {"domain": ["Type 0", "Type 1", "Type 2"], "range": ["#ff0000", "#00ff00", "#0000ff"]}, "legend": {"title": null, "symbolType": "M-3.75,0L3.75,0M0,-0.56L0.56,0L0,0.56L-0.56,0Z"}},
    "stroke": {"field": "t", "type": "nominal"}
   }},
  {"mark": {"type": "point", "opacity": 0},
   "encoding": {
    "x": {"field": "d", "type": "temporal", "axis": {"orient": "bottom", "title": null, "labels": false, "values": [{"year":2016,"month":7,"date":9},{"year":2016,"month":7,"date":23},{"year":2016,"month":8,"date":6},{"year":2016,"month":8,"date":20},{"year":2016,"month":9,"date":3},{"year":2016,"month":9,"date":17}], "tickSize": -12}},
    "y": {"field": "v", "type": "quantitative", "axis": null}
   }},
  {"mark": {"type": "point", "opacity": 0},
   "encoding": {
    "x": {"field": "d", "type": "temporal", "axis": {"orient": "top", "title": null, "labels": false, "values": [{"year":2016,"month":7,"date":9},{"year":2016,"month":7,"date":23},{"year":2016,"month":8,"date":6},{"year":2016,"month":8,"date":20},{"year":2016,"month":9,"date":3},{"year":2016,"month":9,"date":17}], "tickSize": -10}},
    "y": {"field": "v", "type": "quantitative", "axis": null}
   }}
 ],
 "resolve": {"axis": {"x": "independent", "y": "independent"}}
},
{
 "width": 1086, "height": 311,
 "title": "Type Bias Daily Average, Detection Metrics 3",
 "data": {"name": "p3", "format": {"parse": {"d": "date:'%Y-%m-%d'"}}},
 "layer": [
  {"mark": {"type": "line", "strokeWidth": 1.5},
   "encoding": {
    "x": {"field": "d", "type": "temporal", "scale": {"domain": [{"year": 2016, "month": 7, "date": 1}, {"year": 2016, "month": 9, "date": 30}]}, "axis": {"orient": "bottom", "title": null, "values": [{"year":2016,"month":7,"date":2},{"year":2016,"month":7,"date":9},{"year":2016,"month":7,"date":16},{"year":2016,"month":7,"date":23},{"year":2016,"month":7,"date":30},{"year":2016,"month":8,"date":6},{"year":2016,"month":8,"date":13},{"year":2016,"month":8,"date":20},{"year":2016,"month":8,"date":27},{"year":2016,"month":9,"date":3},{"year":2016,"month":9,"date":10},{"year":2016,"month":9,"date":17},{"year":2016,"month":9,"date":24}], "tickSize": -6, "labelPadding": 16, "labelFlush": false, "labelOverlap": false, "labelExpr": "round((datum.value - datetime(2016,6,9))/86400000) % 14 == 0 ? timeFormat(datum.value, '%m%d%y') : ''"}},
    "y": {"field": "v", "type": "quantitative", "scale": {"domain": [0.9726, 0.9738], "zero": false, "nice": false}, "axis": {"orient": "left", "title": null, "values": [0.9726,0.9728,0.973,0.9732,0.9734,0.9736,0.9738], "format": "~g", "labelExpr": "replace(datum.label, '−', '-')", "tickSize": -15, "labelPadding": 27, "minExtent": 79, "maxExtent": 79}},
    "stroke": {"field": "t", "type": "nominal", "scale": {"domain": ["Type 0", "Type 1", "Type 2"], "range": ["#ff0000", "#00ff00", "#0000ff"]}, "legend": {"title": null, "symbolType": "M-3.75,0L3.75,0M0,-0.56L0.56,0L0,0.56L-0.56,0Z"}}
   }},
  {"mark": {"type": "point", "shape": "diamond", "filled": true, "size": 100, "strokeWidth": 1, "opacity": 1},
   "encoding": {
    "x": {"field": "d", "type": "temporal", "axis": {"orient": "top", "title": null, "labels": false, "values": [{"year":2016,"month":7,"date":2},{"year":2016,"month":7,"date":9},{"year":2016,"month":7,"date":16},{"year":2016,"month":7,"date":23},{"year":2016,"month":7,"date":30},{"year":2016,"month":8,"date":6},{"year":2016,"month":8,"date":13},{"year":2016,"month":8,"date":20},{"year":2016,"month":8,"date":27},{"year":2016,"month":9,"date":3},{"year":2016,"month":9,"date":10},{"year":2016,"month":9,"date":17},{"year":2016,"month":9,"date":24}], "tickSize": -6}},
    "y": {"field": "v", "type": "quantitative", "axis": {"orient": "right", "title": null, "labels": false, "values": [0.9726,0.9728,0.973,0.9732,0.9734,0.9736,0.9738], "tickSize": -15}},
    "fill": {"field": "t", "type": "nominal", "scale": {"domain": ["Type 0", "Type 1", "Type 2"], "range": ["#ff0000", "#00ff00", "#0000ff"]}, "legend": {"title": null, "symbolType": "M-3.75,0L3.75,0M0,-0.56L0.56,0L0,0.56L-0.56,0Z"}},
    "stroke": {"field": "t", "type": "nominal"}
   }},
  {"mark": {"type": "point", "opacity": 0},
   "encoding": {
    "x": {"field": "d", "type": "temporal", "axis": {"orient": "bottom", "title": null, "labels": false, "values": [{"year":2016,"month":7,"date":9},{"year":2016,"month":7,"date":23},{"year":2016,"month":8,"date":6},{"year":2016,"month":8,"date":20},{"year":2016,"month":9,"date":3},{"year":2016,"month":9,"date":17}], "tickSize": -12}},
    "y": {"field": "v", "type": "quantitative", "axis": null}
   }},
  {"mark": {"type": "point", "opacity": 0},
   "encoding": {
    "x": {"field": "d", "type": "temporal", "axis": {"orient": "top", "title": null, "labels": false, "values": [{"year":2016,"month":7,"date":9},{"year":2016,"month":7,"date":23},{"year":2016,"month":8,"date":6},{"year":2016,"month":8,"date":20},{"year":2016,"month":9,"date":3},{"year":2016,"month":9,"date":17}], "tickSize": -10}},
    "y": {"field": "v", "type": "quantitative", "axis": null}
   }}
 ],
 "resolve": {"axis": {"x": "independent", "y": "independent"}}
},
{
 "width": 1086, "height": 311,
 "title": "Type Bias Daily Average, Detection Metrics 4",
 "data": {"name": "p4", "format": {"parse": {"d": "date:'%Y-%m-%d'"}}},
 "layer": [
  {"mark": {"type": "line", "strokeWidth": 1.5},
   "encoding": {
    "x": {"field": "d", "type": "temporal", "scale": {"domain": [{"year": 2016, "month": 7, "date": 1}, {"year": 2016, "month": 9, "date": 30}]}, "axis": {"orient": "bottom", "title": null, "values": [{"year":2016,"month":7,"date":2},{"year":2016,"month":7,"date":9},{"year":2016,"month":7,"date":16},{"year":2016,"month":7,"date":23},{"year":2016,"month":7,"date":30},{"year":2016,"month":8,"date":6},{"year":2016,"month":8,"date":13},{"year":2016,"month":8,"date":20},{"year":2016,"month":8,"date":27},{"year":2016,"month":9,"date":3},{"year":2016,"month":9,"date":10},{"year":2016,"month":9,"date":17},{"year":2016,"month":9,"date":24}], "tickSize": -6, "labelPadding": 16, "labelFlush": false, "labelOverlap": false, "labelExpr": "round((datum.value - datetime(2016,6,9))/86400000) % 14 == 0 ? timeFormat(datum.value, '%m%d%y') : ''"}},
    "y": {"field": "v", "type": "quantitative", "scale": {"domain": [-0.192, -0.188], "zero": false, "nice": false}, "axis": {"orient": "left", "title": null, "values": [-0.192,-0.1915,-0.191,-0.1905,-0.19,-0.1895,-0.189,-0.1885,-0.188], "format": "~g", "labelExpr": "replace(datum.label, '−', '-')", "tickSize": -15, "labelPadding": 27, "minExtent": 79, "maxExtent": 79}},
    "stroke": {"field": "t", "type": "nominal", "scale": {"domain": ["Type 0", "Type 1", "Type 2"], "range": ["#ff0000", "#00ff00", "#0000ff"]}, "legend": {"title": null, "symbolType": "M-3.75,0L3.75,0M0,-0.56L0.56,0L0,0.56L-0.56,0Z"}}
   }},
  {"mark": {"type": "point", "shape": "diamond", "filled": true, "size": 100, "strokeWidth": 1, "opacity": 1},
   "encoding": {
    "x": {"field": "d", "type": "temporal", "axis": {"orient": "top", "title": null, "labels": false, "values": [{"year":2016,"month":7,"date":2},{"year":2016,"month":7,"date":9},{"year":2016,"month":7,"date":16},{"year":2016,"month":7,"date":23},{"year":2016,"month":7,"date":30},{"year":2016,"month":8,"date":6},{"year":2016,"month":8,"date":13},{"year":2016,"month":8,"date":20},{"year":2016,"month":8,"date":27},{"year":2016,"month":9,"date":3},{"year":2016,"month":9,"date":10},{"year":2016,"month":9,"date":17},{"year":2016,"month":9,"date":24}], "tickSize": -6}},
    "y": {"field": "v", "type": "quantitative", "axis": {"orient": "right", "title": null, "labels": false, "values": [-0.192,-0.1915,-0.191,-0.1905,-0.19,-0.1895,-0.189,-0.1885,-0.188], "tickSize": -15}},
    "fill": {"field": "t", "type": "nominal", "scale": {"domain": ["Type 0", "Type 1", "Type 2"], "range": ["#ff0000", "#00ff00", "#0000ff"]}, "legend": {"title": null, "symbolType": "M-3.75,0L3.75,0M0,-0.56L0.56,0L0,0.56L-0.56,0Z"}},
    "stroke": {"field": "t", "type": "nominal"}
   }},
  {"mark": {"type": "point", "opacity": 0},
   "encoding": {
    "x": {"field": "d", "type": "temporal", "axis": {"orient": "bottom", "title": null, "labels": false, "values": [{"year":2016,"month":7,"date":9},{"year":2016,"month":7,"date":23},{"year":2016,"month":8,"date":6},{"year":2016,"month":8,"date":20},{"year":2016,"month":9,"date":3},{"year":2016,"month":9,"date":17}], "tickSize": -12}},
    "y": {"field": "v", "type": "quantitative", "axis": null}
   }},
  {"mark": {"type": "point", "opacity": 0},
   "encoding": {
    "x": {"field": "d", "type": "temporal", "axis": {"orient": "top", "title": null, "labels": false, "values": [{"year":2016,"month":7,"date":9},{"year":2016,"month":7,"date":23},{"year":2016,"month":8,"date":6},{"year":2016,"month":8,"date":20},{"year":2016,"month":9,"date":3},{"year":2016,"month":9,"date":17}], "tickSize": -10}},
    "y": {"field": "v", "type": "quantitative", "axis": null}
   }}
 ],
 "resolve": {"axis": {"x": "independent", "y": "independent"}}
}
],
"resolve": {"scale": {"fill": "independent", "stroke": "independent"}, "legend": {"fill": "independent", "stroke": "independent"}}
}
